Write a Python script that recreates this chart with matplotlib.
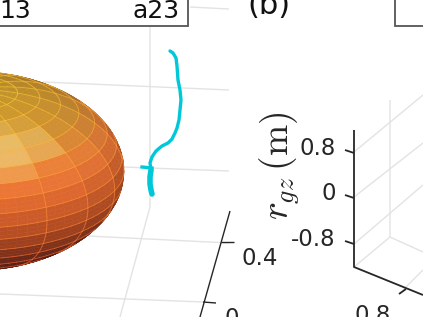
import numpy as np
import matplotlib
matplotlib.use("Agg")
import matplotlib.pyplot as plt
from matplotlib.collections import PolyCollection

W, H = 423, 317
# ---- data (pixel frame of the cropped figure)
trace_x = [170, 173, 176, 177, 178, 180, 181, 180, 179, 177, 175, 172, 168, 162, 156, 152, 150, 151, 150, 150, 151, 152]
trace_y = [51, 53, 58, 66, 80, 90, 100, 110, 120, 128, 133, 139, 143, 146, 151, 157, 163, 170, 177, 184, 190, 194]
stub_x = [142, 152]
stub_y = [167, 168]

lat_deg = [-90, -78, -66, -55, -45, -36, -27, -18, -9, 0, 9, 18, 27, 36, 45, 54, 63, 72, 81, 90]
lon_deg = list(range(-180, 181, 20))

grid_left = [((150, 26), (150, 207), (120, 317)),
             ((190, 7), (229, 9)),
             ((43, 82), (229, 90)),
             ((123, 167), (229, 171)),
             ((88, 236), (229, 243)),
             ((0, 294), (203, 302))]
grid_right = [((390, 100), (390, 237), (423, 252)),
              ((354, 152), (423, 95)),
              ((354, 197), (423, 143)),
              ((354, 244), (423, 185)),
              ((390, 237), (354, 267)),
              ((403, 290), (423, 270))]
axis_left = [((230, 211), (200, 317)),
             ((221, 242), (234, 242)),
             ((203, 302), (216, 303))]
axis_right = [((354, 130), (354, 267), (423, 295)),
              ((345, 150), (354, 153)),
              ((345, 195), (354, 198)),
              ((345, 241), (354, 244)),
              ((399, 294), (406, 289))]
tick_texts = [("0.4", 278, 265), ("0", 239, 325), ("0.8", 336, 155), ("0", 336, 200),
              ("-0.8", 336, 246), ("0.8", 391, 322)]
legend_texts = [("13", 31, 18), ("a23", 180, 18)]

fig = plt.figure(figsize=(W / 100, H / 100), dpi=100)
ax = fig.add_axes([0, 0, 1, 1])
ax.set_xlim(0, W)
ax.set_ylim(H, 0)
ax.axis("off")

def polyline(segs, color, lw, z):
    for s in segs:
        xs, ys = zip(*s)
        ax.plot(xs, ys, color=color, lw=lw, zorder=z, solid_capstyle="butt")

polyline(grid_left + grid_right, "#e3e3e3", 1.0, 1)

# ellipsoid
cx, cy, a, b, tilt = -30, 171, 154, 100, np.radians(35)

def project(la, lo):
    X = np.cos(la) * np.cos(lo)
    Y = np.cos(la) * np.sin(lo)
    Z = np.sin(la)
    return (cx + a * X, cy - b * (Z * np.cos(tilt) - Y * np.sin(tilt)),
            Z * np.sin(tilt) + Y * np.cos(tilt), X, Y, Z)

def shade(z, nx, ny):
    stops_z = [-1, -0.6, -0.16, 0.2, 0.47, 0.75, 1]
    r = np.interp(z, stops_z, [115, 135, 205, 235, 245, 215, 210])
    g = np.interp(z, stops_z, [38, 45, 85, 108, 128, 148, 160])
    bl = np.interp(z, stops_z, [25, 28, 38, 48, 58, 52, 42])
    base = np.array([r, g, bl]) / 255
    lx, ly, lz = 0.29, 0.64, 0.705
    d = max(0, (nx * lx + ny * ly + z * lz) / np.sqrt(lx**2 + ly**2 + lz**2))
    col = base * (0.62 + 0.38 * d)
    spec = max(0, d - 0.95) / 0.05
    col = col + (np.array([0.95, 0.82, 0.5]) - col) * 0.7 * spec
    return np.clip(col, 0, 1)

lat = np.radians(lat_deg)
lon = np.radians(lon_deg)
polys, faces, order = [], [], []
for i in range(len(lat) - 1):
    for j in range(len(lon) - 1):
        mla, mlo = (lat[i] + lat[i+1]) / 2, (lon[j] + lon[j+1]) / 2
        _, _, _, nx, ny, nz = project(mla, mlo)
        col = shade(nz, nx, ny)
        las = np.linspace(lat[i], lat[i+1], 4)
        los = np.linspace(lon[j], lon[j+1], 6)
        for p in range(3):
            for q in range(5):
                corners = [(las[p], los[q]), (las[p], los[q+1]), (las[p+1], los[q+1]), (las[p+1], los[q])]
                pts = [project(u, v) for u, v in corners]
                dm = np.mean([t[2] for t in pts])
                if dm < 0:
                    continue
                polys.append([(t[0], t[1]) for t in pts])
                faces.append(col)
                order.append(dm)
idx = np.argsort(order)
fc = [faces[k] for k in idx]
ax.add_collection(PolyCollection([polys[k] for k in idx], facecolors=fc, edgecolors=fc,
                                 linewidths=0.4, zorder=3))

def mesh_line(las, los):
    px, py, d, _, _, z = project(las, los)
    for k in range(len(px) - 1):
        if d[k] >= 0 and d[k+1] >= 0:
            zz = (z[k] + z[k+1]) / 2
            c = (1.0, np.interp(zz, [-1, -0.3, 0.4, 1], [0.3, 0.5, 0.62, 0.8]), 0.2, 0.55)
            ax.plot(px[k:k+2], py[k:k+2], color=c, lw=0.7, zorder=3.5, solid_capstyle="round")

for la in lat[1:-1]:
    mesh_line(np.full(91, la), np.linspace(-np.pi, np.pi, 91))
for lo in lon[:-1]:
    mesh_line(np.linspace(-np.pi / 2, np.pi / 2, 61), np.full(61, lo))

ax.plot(trace_x, trace_y, color="#00c8d8", lw=2.4, zorder=4,
        solid_capstyle="round", solid_joinstyle="round")
ax.plot(trace_x[-5:], trace_y[-5:], color="#00c8d8", lw=4.0, zorder=4, solid_capstyle="round")
ax.plot(stub_x, stub_y, color="#00c8d8", lw=2.4, zorder=4)

polyline(axis_left, "#262626", 1.0, 5)
polyline(axis_right, "#262626", 1.3, 5)

# legend fragments
ax.fill([-2, 188, 188, -2], [-2, -2, 26, 26], facecolor="white", edgecolor="#555555", lw=1.3, zorder=6)
ax.fill([395, 425, 425, 395], [-2, -2, 26, 26], facecolor="white", edgecolor="#555555", lw=1.3, zorder=6)
for s, x, y in legend_texts:
    ax.text(x, y, s, fontsize=18, ha="right", va="baseline", color="#111111", zorder=7)
ax.text(122, -1, "'", fontsize=10, ha="center", va="center", color="#111111", zorder=7)
ax.text(247, 14, "(b)", fontsize=22, ha="left", va="baseline", color="#111111", zorder=7)

for s, x, y in tick_texts:
    ax.text(x, y, s, fontsize=16.5, ha="right", va="baseline", color="#262626", zorder=7, clip_on=True)

ax.text(280, 166, r"$r_{gz}\,(\mathrm{m})$", rotation=90, fontsize=27, ha="center", va="center",
        color="#262626", math_fontfamily="cm", zorder=7)

fig.savefig("out.png", dpi=100)
